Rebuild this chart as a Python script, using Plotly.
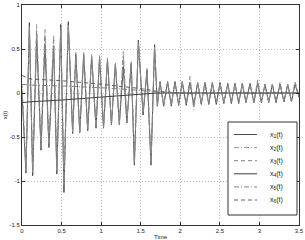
import plotly.graph_objects as go

# ---- data ----
t_fast = [0.0, 0.05, 0.093, 0.135, 0.185, 0.24, 0.29, 0.34, 0.40, 0.44, 0.49, 0.53, 0.585,
          0.64, 0.68, 0.73, 0.78, 0.83, 0.88, 0.935, 0.98, 1.03, 1.08, 1.13, 1.18, 1.23, 1.28,
          1.325, 1.38, 1.42, 1.47, 1.53, 1.58, 1.63, 1.675, 1.71, 1.744, 1.79, 1.84, 1.886,
          1.933, 1.98, 2.025, 2.075, 2.123, 2.17, 2.22, 2.265, 2.312, 2.36, 2.405, 2.455,
          2.502, 2.55, 2.60, 2.645, 2.691, 2.738, 2.784, 2.83, 2.881, 2.93, 2.978, 3.025,
          3.07, 3.117, 3.163, 3.21, 3.26, 3.31, 3.357, 3.405, 3.45, 3.5]

x1_vals = [0.0, -0.91, 0.80, -0.94, 0.62, -0.65, 0.55, -0.62, 0.52, -0.92, 0.78, -1.13, 0.81,
           -0.46, 0.44, -0.45, 0.44, -0.43, 0.42, -0.40, 0.40, -0.40, 0.38, -0.36, 0.33, -0.36, 0.30,
           -0.34, 0.34, -0.82, 0.60, -0.25, 0.26, -0.82, 0.55, -0.15, 0.13, -0.15, 0.13, -0.15,
           0.13, -0.14, 0.13, -0.14, 0.12, -0.14, 0.12, -0.13, 0.12, -0.13, 0.12, -0.13,
           0.12, -0.12, 0.11, -0.12, 0.11, -0.12, 0.11, -0.11, 0.11, -0.11, 0.11, -0.11,
           0.10, -0.11, 0.10, -0.11, 0.10, -0.10, 0.10, -0.10, 0.10, -0.05]

x2_vals = [0.05, -0.88, 0.76, -0.90, 0.78, -0.62, 0.72, -0.60, 0.66, -0.88, 0.74, -1.05, 0.78,
           -0.44, 0.46, -0.44, 0.46, -0.42, 0.44, -0.39, 0.43, -0.39, 0.40, -0.35, 0.35, -0.35, 0.47,
           -0.33, 0.36, -0.80, 0.58, -0.22, 0.28, -0.80, 0.52, -0.14, 0.12, -0.14, 0.12, -0.14,
           0.12, -0.13, 0.12, -0.13, 0.19, -0.19, 0.12, -0.12, 0.11, -0.12, 0.11, -0.12,
           0.11, -0.11, 0.11, -0.11, 0.11, -0.11, 0.10, -0.11, 0.10, -0.11, 0.13, -0.11,
           0.10, -0.10, 0.10, -0.10, 0.10, -0.10, 0.10, -0.10, 0.12, -0.04]

x3_vals = [0.1, -0.85, 0.72, -0.88, 0.70, -0.60, 0.66, -0.58, 0.60, -0.85, 0.70, -1.0, 0.74,
           -0.42, 0.42, -0.42, 0.43, -0.41, 0.41, -0.38, 0.41, -0.38, 0.37, -0.34, 0.32, -0.34, 0.42,
           -0.32, 0.33, -0.78, 0.55, -0.22, 0.25, -0.78, 0.50, -0.13, 0.12, -0.13, 0.12, -0.13,
           0.11, -0.13, 0.11, -0.12, 0.11, -0.12, 0.11, -0.12, 0.11, -0.11, 0.11, -0.11,
           0.10, -0.11, 0.10, -0.11, 0.10, -0.10, 0.10, -0.10, 0.10, -0.10, 0.15, -0.10,
           0.10, -0.10, 0.09, -0.10, 0.12, -0.10, 0.09, -0.09, 0.13, -0.04]

t_slow = [0.0, 0.1, 0.5, 1.0, 1.5, 1.7, 2.0, 3.5]
x4_vals = [-0.11, -0.10, -0.08, -0.05, -0.02, 0.0, 0.0, 0.0]
x5_vals = [0.10, 0.09, 0.08, 0.06, 0.03, 0.01, 0.0, 0.0]
x6_vals = [0.20, 0.16, 0.14, 0.10, 0.05, 0.02, 0.0, 0.0]

names = ["x<sub>1</sub>(t)", "x<sub>2</sub>(t)", "x<sub>3</sub>(t)",
         "x<sub>4</sub>(t)", "x<sub>5</sub>(t)", "x<sub>6</sub>(t)"]

x_ticks = [0, 0.5, 1, 1.5, 2, 2.5, 3, 3.5]
x_ticklabels = ["0", "0.5", "1", "1.5", "2", "2.5", "3", "3.5"]
y_ticks = [-1.5, -1, -0.5, 0, 0.5, 1]
y_ticklabels = ["-1.5", "-1", "-0.5", "0", "0.5", "1"]

DASH = "4px,3px"
DASHDOT = "5px,2px,1px,2px"

series = [
    (t_fast, x1_vals, "#4a4a4a", "solid"),
    (t_fast, x2_vals, "#959595", DASHDOT),
    (t_fast, x3_vals, "#858585", DASH),
    (t_slow, x4_vals, "#404040", "solid"),
    (t_slow, x5_vals, "#808080", DASHDOT),
    (t_slow, x6_vals, "#606060", DASH),
]

fig = go.Figure()
for (tt, vv, col, dash), nm in zip(series, names):
    fig.add_trace(go.Scatter(x=tt, y=vv, mode="lines", name=nm, showlegend=False,
                             line=dict(color=col, width=1, dash=dash)))

# ---- legend box (MATLAB style), drawn in paper coordinates ----
W, H = 305, 240
ML, MR, MT, MB = 22, 6, 5, 15
PW, PH = W - ML - MR, H - MT - MB


def px(xp):
    return (xp - ML) / PW


def py(yp):
    return (H - MB - yp) / PH


fig.add_shape(type="rect", xref="paper", yref="paper",
              x0=px(228), x1=px(297), y0=py(215), y1=py(122),
              line=dict(color="#333333", width=1), fillcolor="white", layer="above")
row0, row_step = 134.5, 13.1
for i, ((tt, vv, col, dash), nm) in enumerate(zip(series, names)):
    yy = py(row0 + i * row_step)
    fig.add_shape(type="line", xref="paper", yref="paper",
                  x0=px(234), x1=px(257), y0=yy, y1=yy,
                  line=dict(color=col, width=1, dash=dash), layer="above")
    fig.add_annotation(text=nm, xref="paper", yref="paper", x=px(268), y=yy,
                       xanchor="left", yanchor="middle", showarrow=False,
                       font=dict(size=7, color="#222222"))

axis_common = dict(showline=True, linecolor="#333333", linewidth=1, mirror="ticks",
                   ticks="inside", ticklen=3, tickcolor="#333333", automargin=False,
                   showgrid=True, gridcolor="#bdbdbd", griddash="1px,2px", gridwidth=1,
                   zeroline=False, tickfont=dict(size=6, color="#222222"))

fig.update_layout(
    width=W, height=H,
    margin=dict(l=ML, r=MR, t=MT, b=MB),
    paper_bgcolor="white", plot_bgcolor="white",
    font=dict(family="Liberation Sans, Arial, sans-serif", size=6, color="#222222"),
    showlegend=False,
)
fig.update_xaxes(range=[0, 3.5], tickvals=x_ticks, ticktext=x_ticklabels,
                 title=dict(text="Time", font=dict(size=6), standoff=1), **axis_common)
fig.update_yaxes(range=[-1.5, 1], tickvals=y_ticks, ticktext=y_ticklabels,
                 title=dict(text="x(t)", font=dict(size=6), standoff=1), **axis_common)

fig.write_html("out.html", config={"displayModeBar": False},
               post_script="document.body.style.margin='0';document.body.style.overflow='hidden';")
